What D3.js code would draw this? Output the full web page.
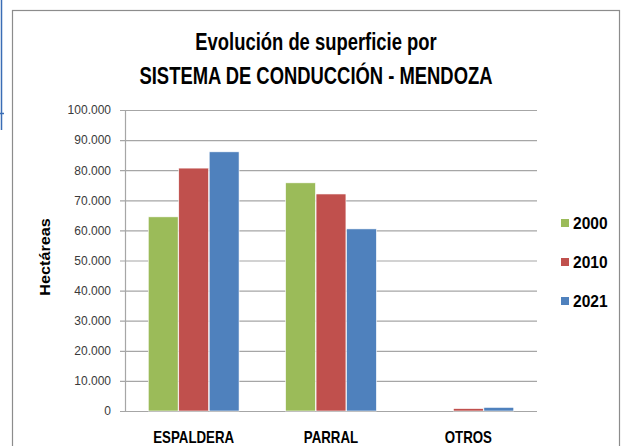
<!DOCTYPE html>
<html>
<head>
<meta charset="utf-8">
<script src="https://cdn.jsdelivr.net/npm/d3@7"></script>
<style>
  body { margin: 0; background: #fff; }
  svg { display: block; }
</style>
</head>
<body>
<svg id="chart" width="625" height="446"></svg>
<script>
const categories = ['ESPALDERA', 'PARRAL', 'OTROS'];
const years = ['2000', '2010', '2021'];
const values2000 = [64500, 75800, 0];
const values2010 = [80700, 72100, 800];
const values2021 = [86100, 60500, 1200];
const yTicks = [0, 10000, 20000, 30000, 40000, 50000, 60000, 70000, 80000, 90000, 100000];
const colors = ['#9BBB59', '#C0504D', '#4F81BD'];

const series = [values2000, values2010, values2021];
const rows = categories.map((c, i) => ({
  cat: c,
  vals: years.map((y, j) => ({ year: y, value: series[j][i] }))
}));

const svg = d3.select('#chart');
const sans = '"Liberation Sans", Arial, sans-serif';

// the reference uses a narrower (Calibri-like) face, so squeeze the bold labels a bit
function squeeze(sel, k) {
  sel.each(function () {
    const w = this.getComputedTextLength();
    d3.select(this).attr('textLength', w * k).attr('lengthAdjust', 'spacingAndGlyphs');
  });
}

// stray blue box edge at the far left
svg.append('path')
  .attr('d', 'M1.5,0 V130 M0,113.5 H4')
  .attr('stroke', '#3a6db5').attr('stroke-width', 1.5).attr('fill', 'none');

// outer chart border
svg.append('rect')
  .attr('x', 12.5).attr('y', 10.5)
  .attr('width', 607).attr('height', 450)
  .attr('fill', '#fff').attr('stroke', '#8c8c8c').attr('stroke-width', 1.2);

// title
svg.append('text')
  .attr('x', 316).attr('y', 50)
  .attr('text-anchor', 'middle')
  .style('font-family', sans).style('font-weight', 'bold').style('font-size', '23px')
  .text('Evolución de superficie por')
  .call(squeeze, 0.8);
svg.append('text')
  .attr('x', 316).attr('y', 84)
  .attr('text-anchor', 'middle')
  .style('font-family', sans).style('font-weight', 'bold').style('font-size', '23px')
  .text('SISTEMA DE CONDUCCIÓN - MENDOZA')
  .call(squeeze, 0.8);

const plot = { left: 125, right: 537, top: 110, bottom: 411 };

const x0 = d3.scaleBand()
  .domain(categories)
  .range([plot.left, plot.right])
  .paddingInner(0.33)
  .paddingOuter(0.165);

const x1 = d3.scaleBand()
  .domain(years)
  .range([0, x0.bandwidth()])
  .padding(0.02);

const y = d3.scaleLinear()
  .domain([0, 100000])
  .range([plot.bottom, plot.top]);

// gridlines + y axis
const yAxis = svg.append('g')
  .attr('transform', `translate(${plot.left},0)`)
  .call(d3.axisLeft(y)
    .tickValues(yTicks)
    .tickSize(-(plot.right - plot.left))
    .tickPadding(14)
    .tickFormat(d => d === 0 ? '0' : d3.format(',')(d).replace(/,/g, '.')));
yAxis.select('.domain').remove();
yAxis.selectAll('.tick line')
  .attr('x1', -5)
  .attr('stroke', '#a6a6a6').attr('stroke-width', 1.2);
yAxis.selectAll('.tick text')
  .attr('fill', '#3a3a3a')
  .style('font-family', sans)
  .style('font-size', '12px');

// vertical axis line
svg.append('line')
  .attr('x1', plot.left + 0.5).attr('x2', plot.left + 0.5)
  .attr('y1', plot.top).attr('y2', plot.bottom)
  .attr('stroke', '#a6a6a6').attr('stroke-width', 1.2);

// bars
const groups = svg.append('g').selectAll('g')
  .data(rows)
  .join('g')
  .attr('transform', d => `translate(${x0(d.cat)},0)`);

groups.selectAll('rect')
  .data(d => d.vals)
  .join('rect')
  .attr('x', d => x1(d.year))
  .attr('y', d => y(d.value))
  .attr('width', x1.bandwidth())
  .attr('height', d => y(0) - y(d.value))
  .attr('fill', (d, i) => colors[i])
  .attr('stroke', '#fff').attr('stroke-width', 0.6);

// category labels
svg.append('g').selectAll('text')
  .data(categories)
  .join('text')
  .attr('x', d => x0(d) + x0.bandwidth() / 2)
  .attr('y', 443)
  .attr('text-anchor', 'middle')
  .style('font-family', sans).style('font-weight', 'bold').style('font-size', '17px')
  .text(d => d)
  .call(squeeze, 0.78);

// y axis title
svg.append('text')
  .attr('transform', 'translate(50,257) rotate(-90)')
  .attr('text-anchor', 'middle')
  .style('font-family', sans)
  .style('font-weight', 'bold').style('font-size', '15px')
  .text('Hectáreas')
  .call(squeeze, 1.08);

// legend
const legend = svg.append('g').selectAll('g')
  .data(years)
  .join('g')
  .attr('transform', (d, i) => `translate(561,${223 + i * 39})`);
legend.append('rect')
  .attr('x', 0).attr('y', -4)
  .attr('width', 8).attr('height', 8)
  .attr('fill', (d, i) => colors[i]);
legend.append('text')
  .attr('x', 12).attr('y', 5.5)
  .style('font-family', sans).style('font-weight', 'bold').style('font-size', '16px')
  .text(d => d)
  .call(squeeze, 0.97);
</script>
</body>
</html>
